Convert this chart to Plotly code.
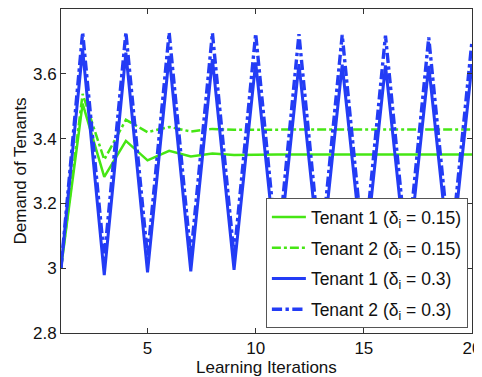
import plotly.graph_objects as go

iterations = list(range(1, 21))
t1_d015 = [3.00, 3.508, 3.282, 3.393, 3.333, 3.362, 3.345, 3.354, 3.349, 3.351,
           3.351, 3.351, 3.351, 3.351, 3.351, 3.351, 3.351, 3.351, 3.351, 3.351]
t2_d015 = [3.00, 3.538, 3.335, 3.458, 3.420, 3.436, 3.422, 3.430, 3.427, 3.428,
           3.428, 3.428, 3.428, 3.428, 3.428, 3.428, 3.428, 3.428, 3.428, 3.428]
t1_d03 = [3.00, 3.675, 2.979, 3.665, 2.987, 3.655, 2.990, 3.645, 2.995, 3.635,
          2.996, 3.630, 2.997, 3.628, 2.998, 3.626, 2.998, 3.624, 2.999, 3.630]
t2_d03 = [3.00, 3.728, 3.030, 3.728, 3.035, 3.727, 3.037, 3.726, 3.038, 3.724,
          3.039, 3.722, 3.040, 3.720, 3.040, 3.718, 3.040, 3.712, 3.040, 3.702]

names = ["Tenant 1 (δ<sub>i</sub> = 0.15)", "Tenant 2 (δ<sub>i</sub> = 0.15)",
         "Tenant 1 (δ<sub>i</sub> = 0.3)", "Tenant 2 (δ<sub>i</sub> = 0.3)"]
x_title = "Learning Iterations"
y_title = "Demand of Tenants"

green = "rgb(70,230,20)"
blue = "rgb(35,60,245)"

fig = go.Figure()
series = [t1_d015, t2_d015, t1_d03, t2_d03]
styles = [dict(color=green, width=2.5),
          dict(color=green, width=2.5, dash="dashdot"),
          dict(color=blue, width=3),
          dict(color=blue, width=3.4, dash="dashdot")]
for i, (ys, st) in enumerate(zip(series, styles)):
    fig.add_trace(go.Scatter(x=iterations, y=ys, mode="lines", name=names[i],
                             legendgroup=f"g{i}", line=st))

font = "Liberation Sans, Arial, sans-serif"
axis_common = dict(showline=True, linecolor="#333", linewidth=1, mirror="allticks",
                   ticks="inside", ticklen=5, tickcolor="#333",
                   showgrid=False, zeroline=False, automargin=False,
                   tickfont=dict(size=17, color="#111"))
# the page body has an 8px margin, so the figure is sized/offset to compensate
fig.update_layout(
    width=474, height=369,
    margin=dict(l=53, r=10, t=1, b=44),
    paper_bgcolor="white", plot_bgcolor="white",
    font=dict(family=font, size=16, color="#111"),
    showlegend=True,
    legend=dict(x=0.99, xanchor="right", y=0.015, yanchor="bottom",
                bgcolor="white", bordercolor="#555", borderwidth=1,
                font=dict(family=font, size=17.5, color="#111"),
                tracegroupgap=5, itemwidth=34),
    xaxis=dict(range=[1, 20], tickvals=[5, 10, 15, 20], **axis_common),
    yaxis=dict(range=[2.8, 3.8], tickvals=[2.8, 3.0, 3.2, 3.4, 3.6],
               ticktext=["2.8", "3", "3.2", "3.4", "3.6"], **axis_common),
    annotations=[
        dict(text=x_title, xref="paper", yref="paper", x=0.5, y=0,
             yshift=-46, xanchor="center", yanchor="bottom", showarrow=False,
             font=dict(size=17, color="#111")),
        dict(text=y_title, xref="paper", yref="paper", x=0, y=0.5,
             xshift=-53, xanchor="left", yanchor="middle", textangle=-90,
             showarrow=False, font=dict(size=17, color="#111")),
    ],
)

fig.write_html("out.html")
